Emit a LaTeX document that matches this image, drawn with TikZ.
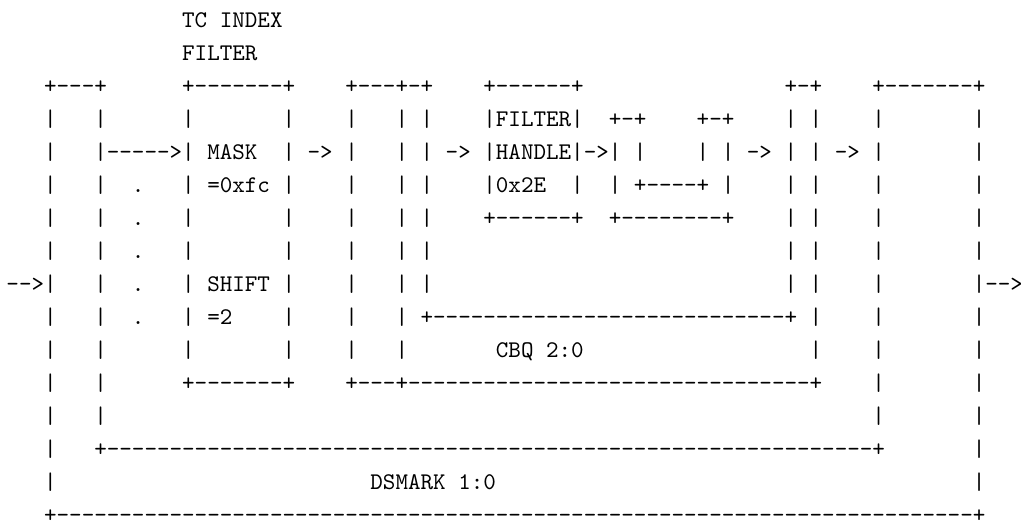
\documentclass[tikz,border=0pt]{standalone}
\usepackage{fontspec}

% width of one character cell of Latin Modern Mono at 10pt
\newdimen\cellw
\cellw=5.25pt

\ExplSyntaxOn
% typeset a string one cell per character; "_" stands for a blank cell
\NewDocumentCommand \ascchars { m }
 {
  \str_map_inline:nn {#1}
   {
    \str_if_eq:nnTF {##1} { _ }
     { \hbox_to_wd:nn { \cellw } { } }
     { \hbox_to_wd:nn { \cellw } { \hss ##1 \hss } }
   }
 }
% a horizontal run +----+ from column #1 to column #2
\NewDocumentCommand \plusline { m m }
 {
  \rlap
   {
    \skip_horizontal:n { #1 \cellw }
    \hbox_to_wd:nn { \cellw } { \hss + \hss }
    \prg_replicate:nn { #2 - #1 - 1 } { \hbox_to_wd:nn { \cellw } { \hss - \hss } }
    \hbox_to_wd:nn { \cellw } { \hss + \hss }
   }
 }
\ExplSyntaxOff
% put a piece of text starting at a given column
\newcommand\putc[2]{\rlap{\hskip#1\cellw\ascchars{#2}}}

\begin{document}
\begin{tikzpicture}[x=0.41833pt,y=-0.41833pt,
  row/.style={anchor=base west, inner sep=0pt, outer sep=0pt,
              font=\fontsize{10pt}{12pt}\ttfamily}]
\def\xo{5.3}
\def\yo{27.7}
\def\pitch{33.0}
\fill[white] (0,0) rectangle (1021,525);
\useasboundingbox (0,0) rectangle (1021,525);

\node[row] (r0) at (\xo,{\yo+0*\pitch}) {\putc{14}{TC_INDEX}};
\node[row] (r1) at (\xo,{\yo+1*\pitch}) {\putc{14}{FILTER}};
\node[row] (r2) at (\xo,{\yo+2*\pitch}) {\putc{3}{+---+}\putc{14}{+-------+}\putc{27}{+---+-+}\putc{38}{+------+}\putc{62}{+-+}\putc{69}{+-------+}};
\node[row] (r3) at (\xo,{\yo+3*\pitch}) {\putc{3}{|}\putc{7}{|}\putc{14}{|}\putc{22}{|}\putc{27}{|}\putc{31}{|}\putc{33}{|}\putc{38}{|FILTER|}\putc{48}{+-+}\putc{55}{+-+}\putc{62}{|}\putc{64}{|}\putc{69}{|}\putc{77}{|}};
\node[row] (r4) at (\xo,{\yo+4*\pitch}) {\putc{3}{|}\putc{7}{|----->|}\putc{16}{MASK}\putc{22}{|}\putc{24}{->}\putc{27}{|}\putc{31}{|}\putc{33}{|}\putc{35}{->}\putc{38}{|HANDLE|->|}\putc{50}{|}\putc{55}{|}\putc{57}{|}\putc{59}{->}\putc{62}{|}\putc{64}{|}\putc{66}{->}\putc{69}{|}\putc{77}{|}};
\node[row] (r5) at (\xo,{\yo+5*\pitch}) {\putc{3}{|}\putc{7}{|}\putc{10}{.}\putc{14}{|}\putc{16}{=0xfc}\putc{22}{|}\putc{27}{|}\putc{31}{|}\putc{33}{|}\putc{38}{|0x2E}\putc{45}{|}\putc{48}{|}\putc{50}{+----+}\putc{57}{|}\putc{62}{|}\putc{64}{|}\putc{69}{|}\putc{77}{|}};
\node[row] (r6) at (\xo,{\yo+6*\pitch}) {\putc{3}{|}\putc{7}{|}\putc{10}{.}\putc{14}{|}\putc{22}{|}\putc{27}{|}\putc{31}{|}\putc{33}{|}\putc{38}{+------+}\putc{48}{+--------+}\putc{62}{|}\putc{64}{|}\putc{69}{|}\putc{77}{|}};
\node[row] (r7) at (\xo,{\yo+7*\pitch}) {\putc{3}{|}\putc{7}{|}\putc{10}{.}\putc{14}{|}\putc{22}{|}\putc{27}{|}\putc{31}{|}\putc{33}{|}\putc{62}{|}\putc{64}{|}\putc{69}{|}\putc{77}{|}};
\node[row] (r8) at (\xo,{\yo+8*\pitch}) {\putc{0}{-->|}\putc{7}{|}\putc{10}{.}\putc{14}{|}\putc{16}{SHIFT}\putc{22}{|}\putc{27}{|}\putc{31}{|}\putc{33}{|}\putc{62}{|}\putc{64}{|}\putc{69}{|}\putc{77}{|-->}};
\node[row] (r9) at (\xo,{\yo+9*\pitch}) {\putc{3}{|}\putc{7}{|}\putc{10}{.}\putc{14}{|}\putc{16}{=2}\putc{22}{|}\putc{27}{|}\putc{31}{|}\plusline{33}{62}\putc{64}{|}\putc{69}{|}\putc{77}{|}};
\node[row] (r10) at (\xo,{\yo+10*\pitch}) {\putc{3}{|}\putc{7}{|}\putc{14}{|}\putc{22}{|}\putc{27}{|}\putc{31}{|}\putc{39}{CBQ_2:0}\putc{64}{|}\putc{69}{|}\putc{77}{|}};
\node[row] (r11) at (\xo,{\yo+11*\pitch}) {\putc{3}{|}\putc{7}{|}\plusline{14}{22}\putc{27}{+---}\plusline{31}{64}\putc{69}{|}\putc{77}{|}};
\node[row] (r12) at (\xo,{\yo+12*\pitch}) {\putc{3}{|}\putc{7}{|}\putc{69}{|}\putc{77}{|}};
\node[row] (r13) at (\xo,{\yo+13*\pitch}) {\putc{3}{|}\plusline{7}{69}\putc{77}{|}};
\node[row] (r14) at (\xo,{\yo+14*\pitch}) {\putc{3}{|}\putc{29}{DSMARK_1:0}\putc{77}{|}};
\node[row] (r15) at (\xo,{\yo+15*\pitch}) {\plusline{3}{77}};
\end{tikzpicture}
\end{document}
